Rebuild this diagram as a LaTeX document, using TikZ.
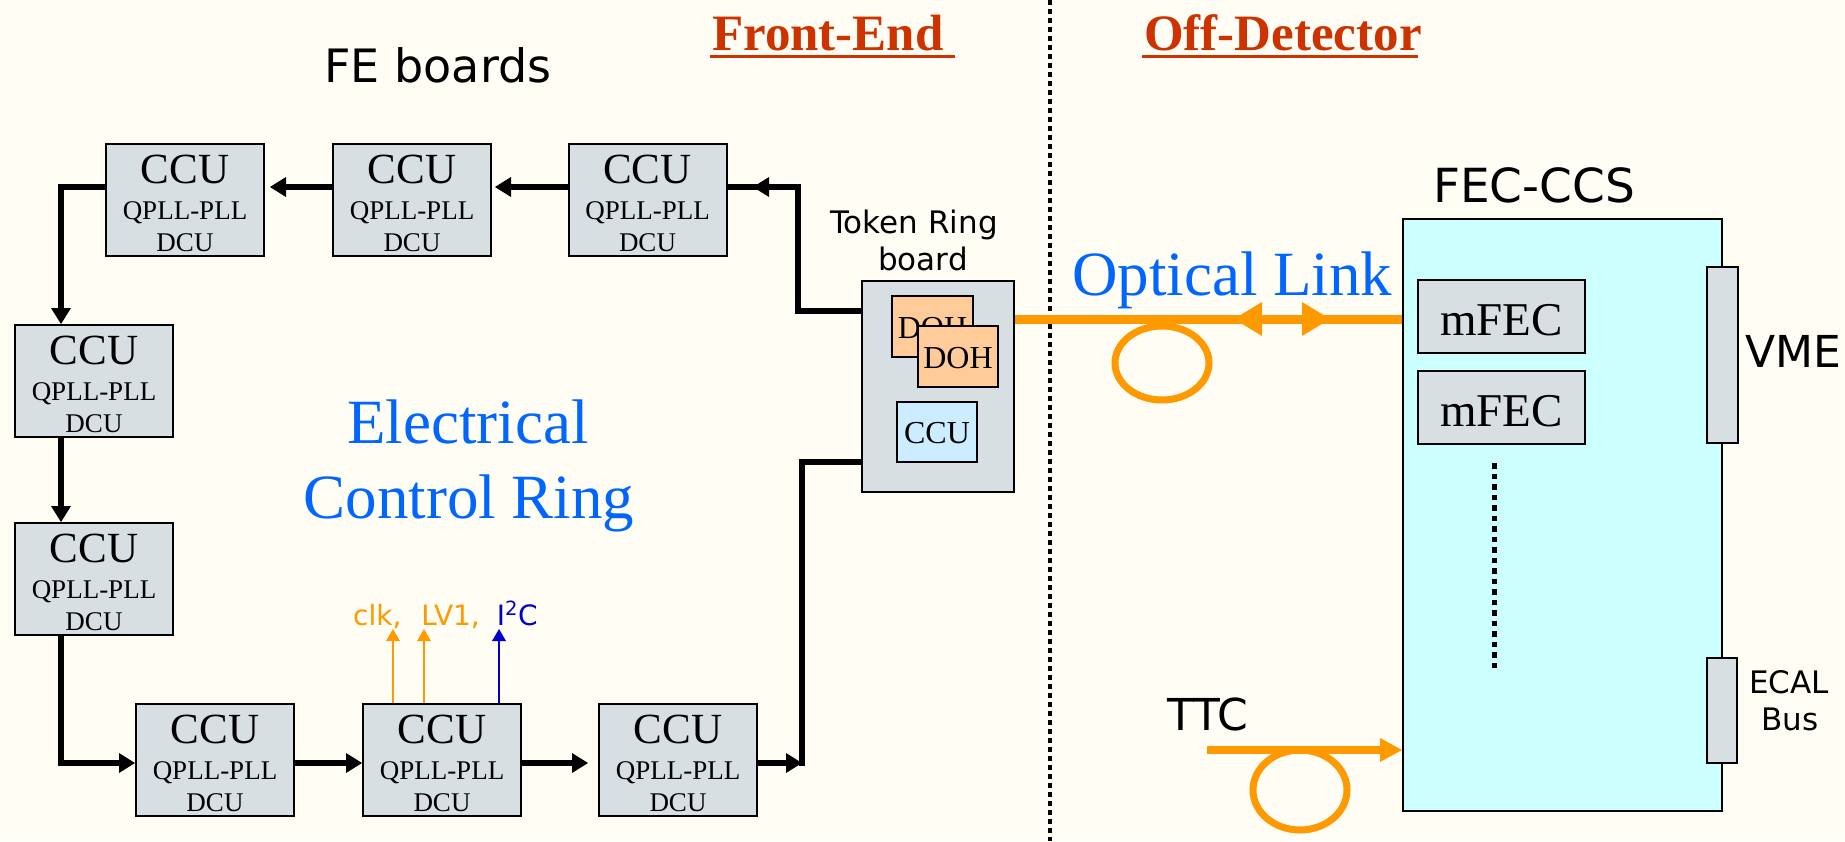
\documentclass[tikz,border=0pt]{standalone}
\usepackage{fontspec}
\setmainfont{Liberation Serif}
\newfontfamily\dvs{DejaVu Sans}
\usetikzlibrary{arrows.meta,calc}
\definecolor{bg}{HTML}{FFFDF4}
\definecolor{boxgray}{HTML}{D7DFE3}
\definecolor{fecfill}{HTML}{CCFFFF}
\definecolor{dohfill}{HTML}{FFCC99}
\definecolor{ccusmall}{HTML}{CCECFF}
\definecolor{ringblue}{HTML}{0066FF}
\definecolor{titlered}{HTML}{CC3300}
\definecolor{optorange}{HTML}{FF9900}
\definecolor{i2cblue}{HTML}{0000CC}
\newcommand\fsz[1]{\fontsize{#1}{#1}\selectfont}
\newcommand\ccunode[2]{%
  \node[ccubox] (#1) at (#2) {};
  \node[txt,font=\fsz{43}] (#1-a) at ([yshift=17pt]#1.center) {CCU};
  \node[txt,font=\fsz{27}] (#1-b) at ([yshift=-19pt]#1.center) {QPLL-PLL};
  \node[txt,font=\fsz{27}] (#1-c) at ([yshift=-51pt]#1.center) {DCU};}
\begin{document}
\begin{tikzpicture}[x=1pt,y=-1pt,
  ccubox/.style={draw=black,line width=2pt,fill=boxgray,inner sep=0pt,minimum width=158pt,minimum height=112pt},
  plainbox/.style={draw=black,line width=2pt,inner sep=0pt},
  txt/.style={anchor=base,inner sep=0pt},
  ring/.style={draw=black,line width=6.5pt},
  ringarrow/.style={ring,-{Triangle[length=16pt,width=20pt,line width=0pt]}},
  opt/.style={draw=optorange,line width=9pt},
  loopline/.style={draw=optorange,line width=7pt},
  thinarrow/.style={line width=2pt,-{Triangle[length=12pt,width=14pt,line width=0pt]}}]
\fill[bg] (0,0) rectangle (1845,841);
\useasboundingbox (0,0) rectangle (1845,841);

% divider
\coordinate (divtop) at (1050,0);
\coordinate (divbot) at (1050,841);
\draw[line width=4pt,dash pattern=on 5pt off 4pt] (divtop) -- (divbot);

% titles
\node[anchor=base west,inner sep=0pt,text=titlered,font=\bfseries\fsz{51}] (fe) at (712,50) {Front-End};
\draw[titlered,line width=3pt] ([shift={(-2,6)}]fe.base west) -- ++(245,0);
\node[anchor=base west,inner sep=0pt,text=titlered,font=\bfseries\fsz{51}] (od) at (1144,50) {Off-Detector};
\draw[titlered,line width=3pt] ([shift={(-2,6)}]od.base west) -- ++(276,0);
\node[txt,font=\dvs\fsz{46}] (feb) at (438,82) {FE boards};

% CCU boxes
\ccunode{A}{185,200}
\ccunode{B}{412,200}
\ccunode{C}{647.5,200}
\ccunode{D}{94,381}
\ccunode{E}{94,579}
\ccunode{F}{215,760}
\ccunode{G}{442,760}
\ccunode{H}{678,760}

% token ring board
\node[plainbox,fill=boxgray,minimum width=152pt,minimum height=211pt] (tr) at (938,386.5) {};
\node[plainbox,fill=dohfill,minimum width=81pt,minimum height=61pt] (doh1) at (932.5,326.5) {};
\node[txt,font=\fsz{32}] (doh1t) at ([yshift=-11.5pt]doh1.center) {DOH};
\node[plainbox,fill=dohfill,minimum width=80pt,minimum height=61pt] (doh2) at (958,356.5) {};
\node[txt,font=\fsz{32}] (doh2t) at ([yshift=-11.5pt]doh2.center) {DOH};
\node[plainbox,fill=ccusmall,minimum width=80pt,minimum height=60pt] (ccus) at (937,432) {};
\node[txt,font=\fsz{32}] (ccust) at ([yshift=-11pt]ccus.center) {CCU};
\node[txt,font=\dvs\fsz{31}] (tok1) at (914,233) {Token Ring};
\node[txt,font=\dvs\fsz{31}] (tok2) at (923,270) {board};

% ring label
\node[txt,text=ringblue,font=\fsz{63}] (el1) at (468,443) {Electrical};
\node[txt,text=ringblue,font=\fsz{63}] (el2) at (469,518) {Control Ring};

% ring connectors
\coordinate (lt) at (61,187);
\coordinate (lb) at (61,763);
\coordinate (rt) at (798,187);
\coordinate (rtb) at (798,311);
\coordinate (rb) at (802,763);
\coordinate (rbt) at (802,462);
\coordinate (mh) at (753,187);
\draw[ringarrow,shorten >=5pt] ([yshift=13pt]B.west) -- ([yshift=13pt]A.east);
\draw[ringarrow,shorten >=3pt] ([yshift=13pt]C.west) -- ([yshift=13pt]B.east);
\draw[ringarrow] ([yshift=13pt]A.west) -- (lt) -- (lt|-D.north);
\draw[ringarrow] (lt|-D.south) -- (lt|-E.north);
\draw[ringarrow] (lt|-E.south) -- (lb) -- (lb-|F.west);
\draw[ringarrow] ([yshift=-3pt]F.east) -- ([yshift=-3pt]G.west);
\draw[ringarrow,shorten >=10pt] ([yshift=-3pt]G.east) -- ([yshift=-3pt]H.west);
\draw[ringarrow] ([yshift=-3pt]H.east) -- (rb);
\draw[ring] ([yshift=-3.25pt]rb) -- (rbt) -- (rbt-|tr.west);
\draw[ring] (rtb-|tr.west) -- (rtb) -- (rt) -- (rt-|C.east);
\draw[ringarrow] ([xshift=30pt]mh) -- (mh);

% signal arrows
\draw[thinarrow,optorange] ([xshift=-49pt]G.north) -- ++(0,-74);
\draw[thinarrow,optorange] ([xshift=-18pt]G.north) -- ++(0,-74);
\draw[thinarrow,i2cblue] ([xshift=57pt]G.north) -- ++(0,-74);
\node[anchor=base west,inner sep=0pt,font=\dvs\fsz{28}] (sig) at (353,625)
  {\textcolor{optorange}{clk,}\hspace{20pt}\textcolor{optorange}{LV1,}\hspace{17pt}\textcolor{i2cblue}{I\textsuperscript{2}C}};

% FEC-CCS
\node[plainbox,fill=fecfill,minimum width=319pt,minimum height=592pt] (fec) at (1562.5,515) {};
\node[plainbox,fill=boxgray,minimum width=31pt,minimum height=176pt] (vme) at (1722.5,355) {};
\node[plainbox,fill=boxgray,minimum width=30pt,minimum height=105pt] (ecal) at (1722,710.5) {};
\node[plainbox,fill=boxgray,minimum width=167pt,minimum height=73pt] (m1) at (1501.5,316.5) {};
\node[txt,font=\fsz{47}] (m1t) at ([yshift=-18.5pt]m1.center) {mFEC};
\node[plainbox,fill=boxgray,minimum width=167pt,minimum height=73pt] (m2) at (1501.5,407.5) {};
\node[txt,font=\fsz{47}] (m2t) at ([yshift=-18.5pt]m2.center) {mFEC};
\coordinate (dt) at (1494,463);
\coordinate (db) at (1494,671);
\draw[line width=5pt,dash pattern=on 5.5pt off 5pt] (dt) -- (db);
\node[anchor=base west,inner sep=0pt,font=\dvs\fsz{47}] (fect) at (1433,202) {FEC-CCS};
\node[anchor=base west,inner sep=0pt,font=\dvs\fsz{44}] (vmet) at (1745,367) {VME};
\node[txt,font=\dvs\fsz{31}] (ecal1) at (1789,693) {ECAL};
\node[txt,font=\dvs\fsz{31}] (ecal2) at (1790,730) {Bus};

% optical link
\coordinate (ol) at ([yshift=67.5pt]tr.east);
\draw[opt] (ol) -- (ol-|fec.west);
\coordinate (dal) at (1234,319);
\coordinate (dar) at (1330,319);
\draw[opt,{Triangle[length=28pt,width=34pt,line width=0pt]}-{Triangle[length=28pt,width=34pt,line width=0pt]}] (dal) -- (dar);
\draw[loopline] (1162,363) ellipse [x radius=47, y radius=37];
\node[anchor=base west,inner sep=0pt,text=ringblue,font=\fsz{63}] (optt) at (1072,295) {Optical Link};

% TTC
\coordinate (ttcs) at (1207,750);
\draw[draw=optorange,line width=8pt,-{Triangle[length=22pt,width=24pt,line width=0pt]}] (ttcs) -- (ttcs-|fec.west);
\draw[loopline] (1300,790) ellipse [x radius=47, y radius=40];
\node[anchor=base west,inner sep=0pt,font=\dvs\fsz{44}] (ttct) at (1167,730) {TTC};
\end{tikzpicture}
\end{document}
